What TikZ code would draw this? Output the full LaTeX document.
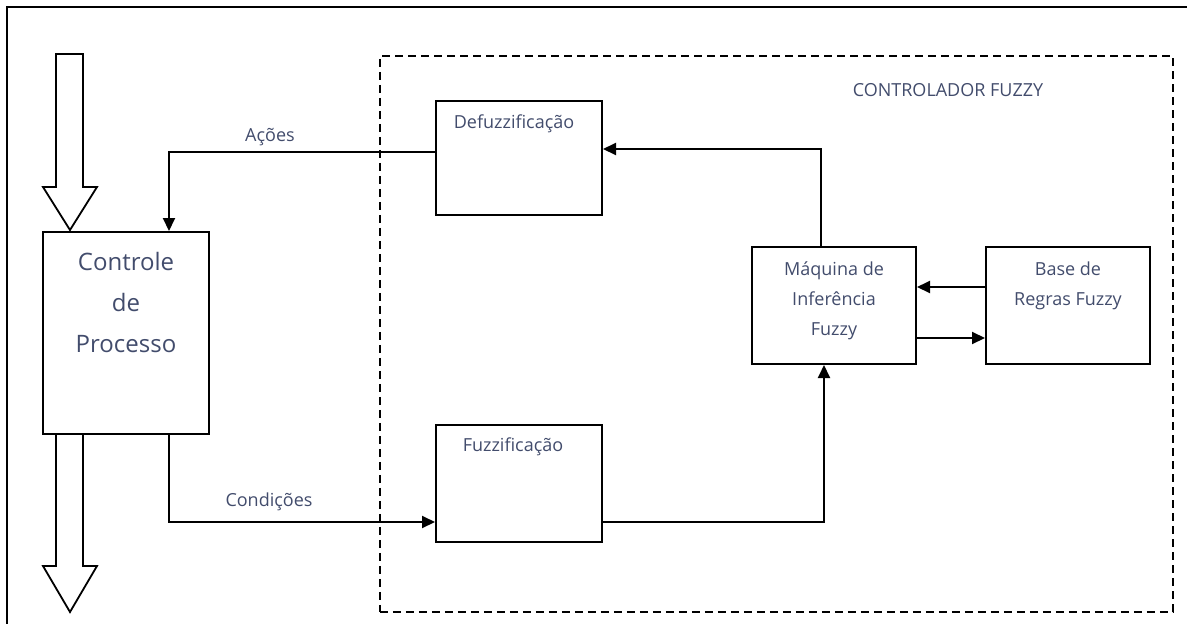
\documentclass[tikz,border=0pt]{standalone}
\usepackage{fontspec}
\setmainfont{Open Sans}
\usetikzlibrary{arrows.meta,calc}
\definecolor{txt}{RGB}{66,76,108}
\begin{document}
\begin{tikzpicture}[x=1pt,y=-1pt,
  box/.style={draw,line width=2pt,inner sep=0pt,anchor=north west},
  lbl/.style={text=txt,font=\fontsize{18}{30}\selectfont,inner sep=0pt,align=center},
  conn/.style={line width=2pt,-{Triangle[length=13pt,width=12pt]}},
  hollow/.style={line width=1.8pt,fill=white,line join=miter}]
\useasboundingbox (0,0) rectangle (1187,624);
% outer frame (only top and left visible)
\draw[line width=2pt] (7,624) -- (7,7) -- (1187,7);
% dashed controller region
\node[draw,line width=1.8pt,dash pattern=on 8pt off 5pt,inner sep=0pt,anchor=north west,
  minimum width=793pt,minimum height=556pt] (fc) at (379,55) {};
\node[lbl,anchor=center] (fctxt) at (948,90) {CONTROLADOR FUZZY};
% boxes
\node[box,minimum width=166pt,minimum height=202pt] (ctrl) at (42,231) {};
\node[lbl,anchor=north,font=\fontsize{24}{41}\selectfont] (ctrltxt) at ($(ctrl.north)+(0,21)$) {Controle\\de\\Processo};
\node[box,minimum width=166pt,minimum height=114pt] (defuz) at (435,100) {};
\node[lbl,anchor=north] (defuztxt) at ($(defuz.north)+(-5,15)$) {Defuzzificação};
\node[box,minimum width=166pt,minimum height=117pt] (fuz) at (435,424) {};
\node[lbl,anchor=north] (fuztxt) at ($(fuz.north)+(-6,14)$) {Fuzzificação};
\node[box,minimum width=164pt,minimum height=117pt] (maq) at (751,246) {};
\node[lbl,anchor=north] (maqtxt) at ($(maq.north)+(0,16)$) {Máquina de\\Inferência\\Fuzzy};
\node[box,minimum width=164pt,minimum height=117pt] (base) at (985,246) {};
\node[lbl,anchor=north] (basetxt) at ($(base.north)+(0,16)$) {Base de\\Regras Fuzzy};
% hollow process arrows
\draw[hollow] (56,54) -- (83,54) -- (83,187) -- (97,187) -- (70,230) -- (43,187) -- (56,187) -- cycle;
\draw[hollow] ($(ctrl.south west)+(14,0)$) -- (56,566) -- (43,566) -- (70,612) -- (97,566) -- (83,566) -- ($(ctrl.south west)+(41,0)$);
% connectors
\draw[conn] ($(defuz.north west)+(0,52)$) -| ($(ctrl.north west)+(127,0)$);
\node[lbl,anchor=center] (acoes) at (270,137) {Ações};
\draw[conn] ($(ctrl.south west)+(127,0)$) |- ($(fuz.north west)+(0,98)$);
\node[lbl,anchor=center] (cond) at (269,502) {Condições};
\draw[conn] ($(maq.north west)+(70,0)$) |- ($(defuz.north east)+(0,49)$);
\draw[conn] ($(fuz.north east)+(0,98)$) -| ($(maq.south west)+(73,0)$);
\draw[conn] ($(base.north west)+(0,41)$) -- ($(maq.north east)+(0,41)$);
\draw[conn] ($(maq.north east)+(0,92)$) -- ($(base.north west)+(0,92)$);
\end{tikzpicture}
\end{document}
